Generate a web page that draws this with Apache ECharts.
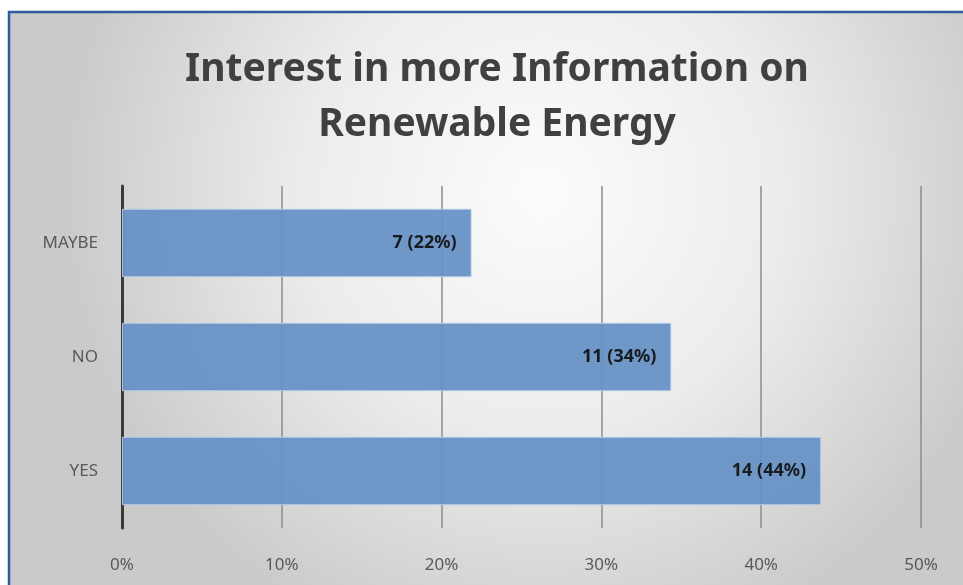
<!DOCTYPE html>
<html>
<head>
<meta charset="utf-8">
<script src="https://cdn.jsdelivr.net/npm/echarts@6/dist/echarts.min.js"></script>
<style>
  html,body{margin:0;padding:0;background:#fff}
  #main{width:963px;height:585px}
</style>
</head>
<body>
<div id="main"></div>
<script>
// answers, bottom to top as drawn
var answers = ["YES", "NO", "MAYBE"];
var counts = [14, 11, 7];
var shares = [43.75, 34.375, 21.875];   // percent of 32 replies
var pctTicks = [0, 10, 20, 30, 40, 50];

var chart = echarts.init(document.getElementById("main"));

var option = {
  backgroundColor: "#fff",
  animation: false,
  graphic: [{
    type: "rect",
    z: -10,
    silent: true,
    shape: {x: 9, y: 12, width: 970, height: 600},
    style: {
      fill: new echarts.graphic.RadialGradient(0.55, 0.3, 0.8, [
        {offset: 0, color: "#fcfcfc"},
        {offset: 0.5, color: "#ececec"},
        {offset: 1, color: "#cacaca"}
      ]),
      stroke: "#2f5b9a",
      lineWidth: 2.5
    }
  }],
  title: {
    text: "Interest in more Information on\nRenewable Energy",
    left: 492,
    textAlign: "center",
    top: 37,
    textStyle: {
      fontFamily: "Noto Sans",
      fontWeight: "bold",
      fontSize: 39,
      lineHeight: 55,
      color: "#404040"
    }
  },
  grid: {left: 122, right: 42, top: 186, bottom: 57},
  xAxis: {
    type: "value",
    min: 0,
    max: 50,
    interval: 10,
    axisLine: {show: false},
    axisTick: {show: false},
    axisLabel: {
      formatter: function(v){ return pctTicks.indexOf(v) >= 0 ? v + "%" : ""; },
      fontFamily: "Noto Sans",
      fontSize: 17,
      color: "#595959",
      margin: 29
    },
    splitLine: {show: true, lineStyle: {color: "#8c8c8c", width: 1.5}}
  },
  yAxis: {
    type: "category",
    data: answers,
    axisLine: {show: true, lineStyle: {color: "#3a3a3a", width: 3}},
    axisTick: {show: false},
    axisLabel: {fontFamily: "Noto Sans", fontSize: 17, color: "#595959", margin: 24}
  },
  series: [{
    type: "bar",
    data: shares,
    barCategoryGap: "40%",
    itemStyle: {color: "#6590c5", borderColor: "#b7cde9", borderWidth: 1, opacity: 0.93},
    label: {
      show: true,
      position: "insideRight",
      distance: 15,
      fontFamily: "Noto Sans",
      fontWeight: "bold",
      fontSize: 18,
      color: "#111",
      formatter: function(p){
        return counts[p.dataIndex] + " (" + Math.round(shares[p.dataIndex]) + "%)";
      }
    }
  }]
};

chart.setOption(option);
</script>
</body>
</html>
